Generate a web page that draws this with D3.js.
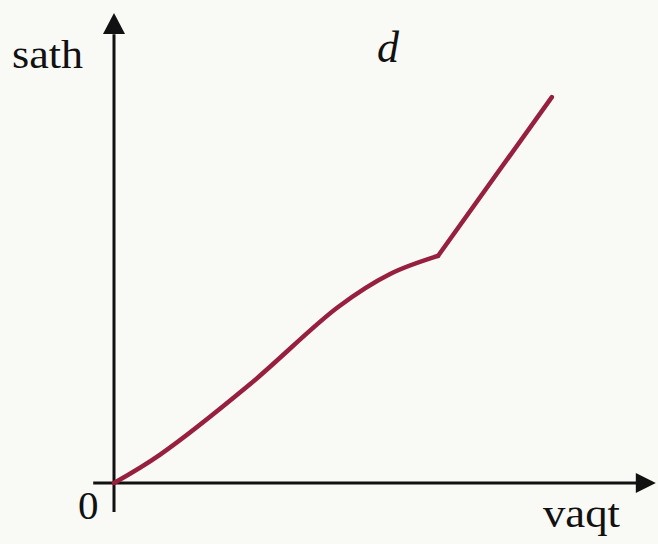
<!DOCTYPE html>
<html>
<head>
<meta charset="utf-8">
<script src="https://cdn.jsdelivr.net/npm/d3@7"></script>
<style>
  html, body { margin: 0; padding: 0; background: #f9f9f6; }
  svg { display: block; }
  text { font-family: "Liberation Serif", "DejaVu Serif", serif; fill: #111; }
</style>
</head>
<body>
<div id="chart"></div>
<script>
// curve (arbitrary units, 0..10 on both axes)
const vaqt = [0, 0.88, 2.62, 4.31, 5.31, 6.23]
const sath = [0, 0.64, 2.25, 4.0, 4.75, 5.16]
// straight part after the kink
const vaqt2 = [6.23, 8.42]
const sath2 = [5.16, 8.77]

const xLabel = "vaqt"
const yLabel = "sath"
const originLabel = "0"
const curveLabel = "d"

function createChart() {
  const width = 658
  const height = 544

  const x = d3.scaleLinear().domain([0, 10]).range([114, 634])
  const y = d3.scaleLinear().domain([0, 10]).range([483, 43])

  const svg = d3.select("#chart")
    .append("svg")
    .attr("width", width)
    .attr("height", height)
    .attr("viewBox", [0, 0, width, height])

  // axes
  const axis = svg.append("g").attr("stroke", "#111").attr("stroke-width", 3)
  axis.append("line")
    .attr("x1", x(0)).attr("x2", x(0))
    .attr("y1", y(-0.66)).attr("y2", y(10.2))
  axis.append("line")
    .attr("x1", x(-0.4)).attr("x2", x(10.1))
    .attr("y1", y(0)).attr("y2", y(0))

  // arrow heads
  const tipY = y(10.68), tipX = x(10.42)
  svg.append("path")
    .attr("d", `M${x(0)},${tipY} L${x(0) - 11},${tipY + 21} L${x(0) + 11},${tipY + 21} Z`)
    .attr("fill", "#111")
  svg.append("path")
    .attr("d", `M${tipX},${y(0)} L${tipX - 20},${y(0) - 10} L${tipX - 20},${y(0) + 10} Z`)
    .attr("fill", "#111")

  const line = d3.line()
    .x(d => x(d[0]))
    .y(d => y(d[1]))

  svg.append("path")
    .datum(d3.zip(vaqt, sath))
    .attr("d", line.curve(d3.curveCatmullRom.alpha(0.5)))
    .attr("fill", "none")
    .attr("stroke", "#97203f")
    .attr("stroke-width", 4.5)
    .attr("stroke-linejoin", "round")
    .attr("stroke-linecap", "round")

  svg.append("path")
    .datum(d3.zip(vaqt2, sath2))
    .attr("d", line.curve(d3.curveLinear))
    .attr("fill", "none")
    .attr("stroke", "#97203f")
    .attr("stroke-width", 4.5)
    .attr("stroke-linejoin", "round")
    .attr("stroke-linecap", "round")

  // labels
  svg.append("text")
    .attr("x", 12).attr("y", 68)
    .attr("font-size", 41)
    .attr("textLength", 71).attr("lengthAdjust", "spacingAndGlyphs")
    .text(yLabel)
  svg.append("text")
    .attr("x", 543).attr("y", 527)
    .attr("font-size", 41)
    .attr("textLength", 77).attr("lengthAdjust", "spacingAndGlyphs")
    .text(xLabel)
  svg.append("text")
    .attr("x", 78).attr("y", 519)
    .attr("font-size", 41)
    .text(originLabel)
  svg.append("text")
    .attr("x", 377).attr("y", 62)
    .attr("font-size", 44)
    .attr("font-style", "italic")
    .text(curveLabel)
}

document.addEventListener("DOMContentLoaded", () => {
  createChart()
})
</script>
</body>
</html>
